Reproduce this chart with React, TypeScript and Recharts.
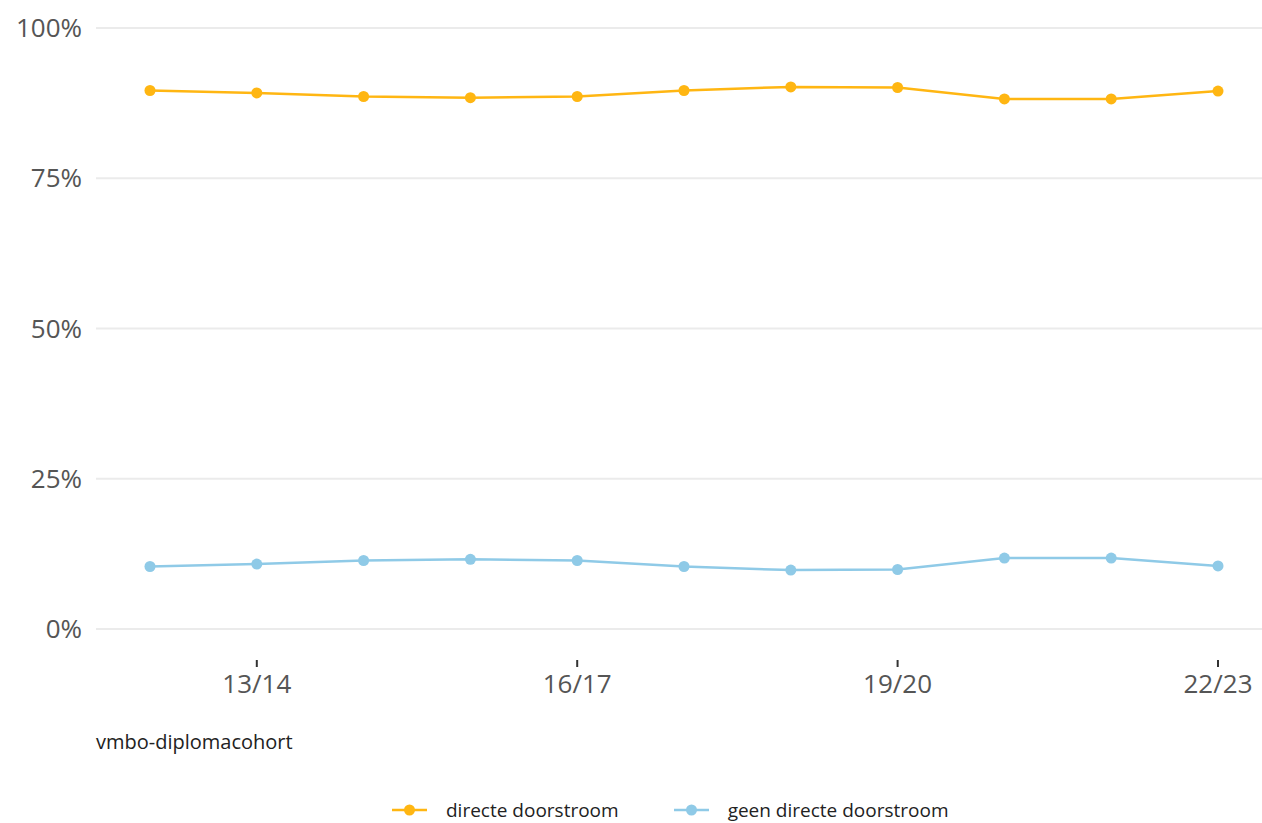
import { LineChart, Line, XAxis, YAxis, CartesianGrid } from "recharts"

const years = ["12/13", "13/14", "14/15", "15/16", "16/17", "17/18", "18/19", "19/20", "20/21", "21/22", "22/23"]
const direct = [89.6, 89.2, 88.6, 88.4, 88.6, 89.6, 90.2, 90.1, 88.2, 88.2, 89.5]
const notDirect = [10.4, 10.8, 11.4, 11.6, 11.4, 10.4, 9.8, 9.9, 11.8, 11.8, 10.5]
const xTicks = ["13/14", "16/17", "19/20", "22/23"]
const yTicks = [0, 25, 50, 75, 100]

const series = [
    { key: "direct", name: "directe doorstroom", color: "#FFB612" },
    { key: "notDirect", name: "geen directe doorstroom", color: "#8FCAE7" },
]

const font = "'Open Sans', sans-serif"

export default function App() {
    const data = years.map((y, i) => ({ year: y, direct: direct[i], notDirect: notDirect[i] }))

    return (
        <div style={{ position: "absolute", left: 0, top: 0, width: 1262, height: 823, background: "#fff", fontFamily: font }}>
            <LineChart width={1262} height={823} data={data} margin={{ top: 28, right: 0, left: 0, bottom: 103 }}>
                <CartesianGrid vertical={false} horizontalValues={yTicks} stroke="#ebebeb" strokeWidth={2} />
                <XAxis
                    dataKey="year" scale="point" ticks={xTicks} height={60}
                    padding={{ left: 54, right: 44 }}
                    axisLine={false} tickSize={7} tickMargin={8}
                    tickLine={{ stroke: "#333", strokeWidth: 2 }}
                    tick={{ fontSize: 26, fill: "#555", fontFamily: font }}
                />
                <YAxis
                    domain={[0, 100]} ticks={yTicks} width={96}
                    padding={{ top: 0, bottom: 31 }}
                    axisLine={false} tickLine={false} tickSize={0} tickMargin={14}
                    tickFormatter={(v) => `${v}%`}
                    tick={{ fontSize: 26, fill: "#555", fontFamily: font }}
                />
                {series.map((s) => (
                    <Line
                        key={s.key} dataKey={s.key} name={s.name} type="linear"
                        stroke={s.color} strokeWidth={2.5}
                        dot={{ r: 5.5, fill: s.color, stroke: "none" }}
                        activeDot={false} isAnimationActive={false}
                    />
                ))}
            </LineChart>
            <div style={{ position: "absolute", left: 96, top: 728, fontSize: 20, color: "#222" }}>
                vmbo-diplomacohort
            </div>
            <div style={{ position: "absolute", left: 392, top: 797, display: "flex", alignItems: "center", fontSize: 19, color: "#222" }}>
                {series.map((s, i) => (
                    <div key={s.key} style={{ display: "flex", alignItems: "center", marginRight: i === 0 ? 55 : 0 }}>
                        <svg width={35} height={14} style={{ marginRight: 19 }}>
                            <line x1={0} y1={7} x2={35} y2={7} stroke={s.color} strokeWidth={2.5} />
                            <circle cx={17.5} cy={7} r={5.5} fill={s.color} />
                        </svg>
                        <span>{s.name}</span>
                    </div>
                ))}
            </div>
        </div>
    )
}
